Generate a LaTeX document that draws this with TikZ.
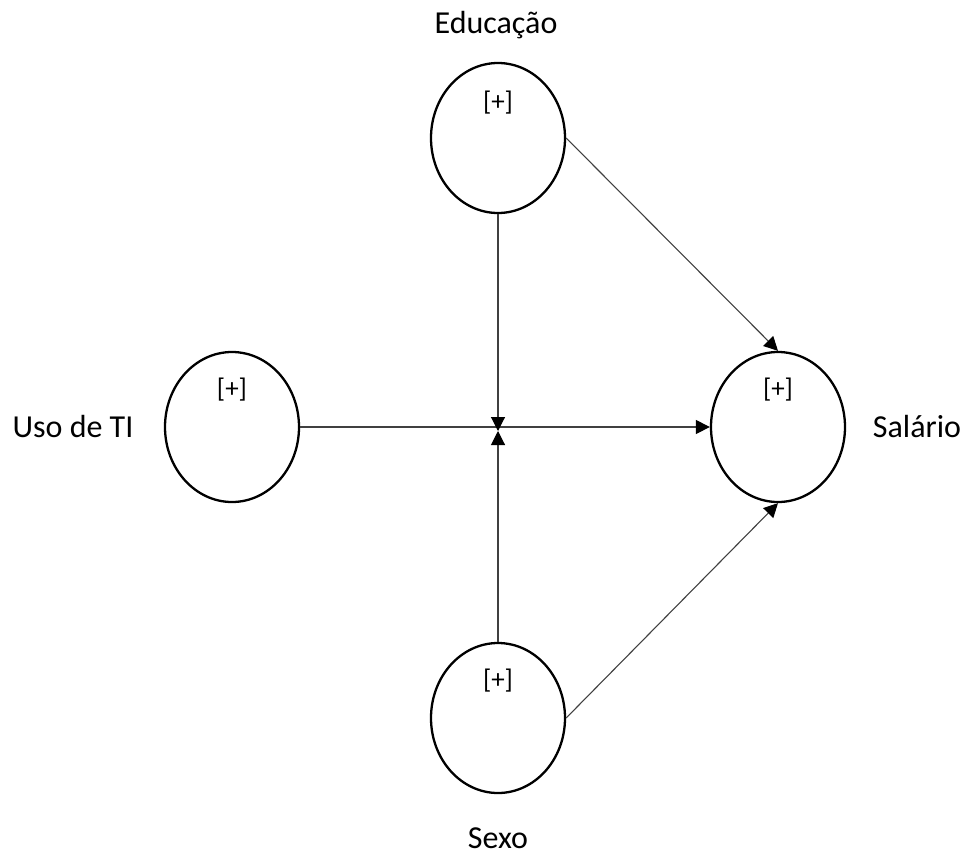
\documentclass[tikz,border=0pt]{standalone}
\usepackage{fontspec}
\setmainfont{Carlito}
\usetikzlibrary{shapes.geometric,arrows.meta}
\begin{document}
\begin{tikzpicture}[x=1pt,y=-1pt,
  construct/.style={draw=black,line width=2.3pt,ellipse,minimum width=134pt,minimum height=150pt,inner sep=0pt},
  caption/.style={font=\fontsize{32}{38}\selectfont,inner sep=0pt},
  sign/.style={font=\fontsize{27}{32}\selectfont,inner sep=0pt},
  conn/.style={draw=black!75,line width=1.1pt,-{Triangle[length=14pt,width=14pt,color=black]}}]
\useasboundingbox (0,0) rectangle (969,857);
% constructs
\node[construct] (edu) at (498,138) {};
\node[construct] (uso) at (232,427) {};
\node[construct] (sal) at (778,427) {};
\node[construct] (sexo) at (498,718) {};
% markers inside the constructs
\node[sign] (edu-p) at (498,103) {[+]};
\node[sign] (uso-p) at (232,390) {[+]};
\node[sign] (sal-p) at (778,390) {[+]};
\node[sign] (sexo-p) at (498,681) {[+]};
% construct names
\node[caption] (edu-t) at (496,25) {Educação};
\node[caption] (uso-t) at (73,427) {Uso de TI};
\node[caption] (sal-t) at (917,427) {Salário};
\node[caption] (sexo-t) at (498,838) {Sexo};
% paths
\coordinate (meet) at (498,431);
\draw[conn] (uso.east) -- (sal.west);
\draw[conn] (edu.south) -- (meet);
\draw[conn] (sexo.north) -- (meet);
\draw[conn] (edu.east) -- (sal.north);
\draw[conn] (sexo.east) -- (sal.south);
\end{tikzpicture}
\end{document}
